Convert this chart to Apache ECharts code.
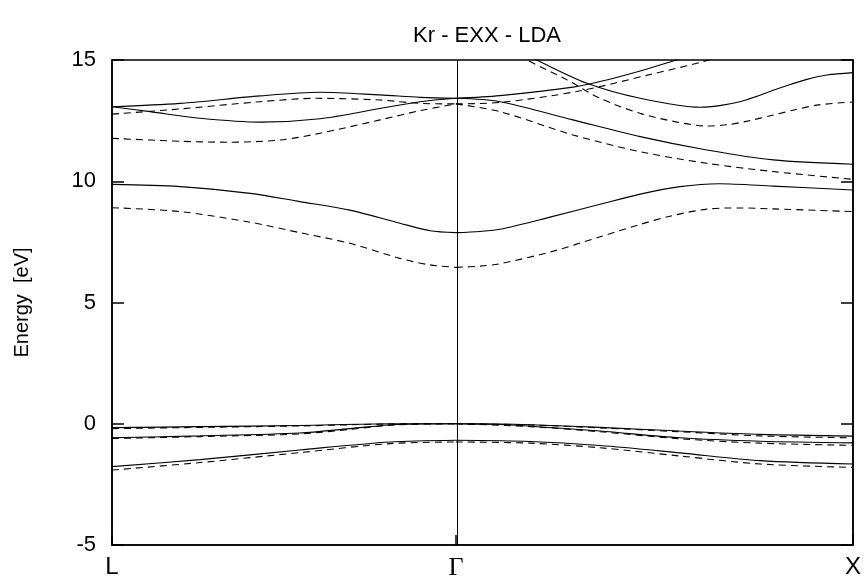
<!DOCTYPE html>
<html>
<head>
<meta charset="utf-8">
<script src="https://cdn.jsdelivr.net/npm/echarts@6/dist/echarts.min.js"></script>
<style>
html,body{margin:0;padding:0;background:#fff;}
#chart{width:866px;height:582px;}
</style>
</head>
<body>
<div id="chart"></div>
<script>
// k-path positions (L, Gamma, X)
const kPoints = [0, 0.866, 1.866];
const kLabels = ['L', 'Γ', 'X'];
const yTicks = [-5, 0, 5, 10, 15];

// EXX bands (solid) : [k, E(eV)]
const exxV1 = [[0,-0.16],[0.222,-0.12],[0.473,-0.07],[0.70,0],[0.866,0],[0.977,-0.01],[1.053,-0.04],[1.229,-0.15],[1.430,-0.30],[1.632,-0.44],[1.866,-0.51]];
const exxV2 = [[0,-0.58],[0.222,-0.50],[0.473,-0.38],[0.599,-0.20],[0.718,-0.03],[0.866,0],[0.977,-0.03],[1.053,-0.10],[1.229,-0.30],[1.430,-0.58],[1.632,-0.72],[1.866,-0.79]];
const exxV3 = [[0,-1.77],[0.222,-1.48],[0.473,-1.08],[0.70,-0.75],[0.866,-0.68],[1.053,-0.73],[1.229,-0.90],[1.430,-1.20],[1.632,-1.52],[1.866,-1.66]];
const exxC1 = [[0,9.87],[0.171,9.78],[0.348,9.50],[0.473,9.16],[0.599,8.81],[0.725,8.27],[0.801,7.96],[0.866,7.88],[0.927,7.93],[0.977,8.02],[1.103,8.52],[1.229,9.05],[1.33,9.47],[1.43,9.78],[1.53,9.90],[1.665,9.80],[1.866,9.64]];
const exxC2 = [[0,13.07],[0.096,12.87],[0.222,12.60],[0.373,12.44],[0.524,12.58],[0.675,13.00],[0.776,13.28],[0.866,13.42],[0.977,13.28],[1.161,12.53],[1.330,11.84],[1.498,11.29],[1.665,10.88],[1.866,10.70]];
const exxC3 = [[0,13.07],[0.171,13.21],[0.373,13.52],[0.524,13.67],[0.675,13.56],[0.776,13.46],[0.866,13.42],[0.977,13.53],[1.161,13.88],[1.229,14.11],[1.330,14.55],[1.413,14.96],[1.46,15.2]];
const exxC4 = [[1.03,15.4],[1.070,15.0],[1.196,14.04],[1.330,13.42],[1.481,13.05],[1.53,13.12],[1.581,13.28],[1.62,13.48],[1.665,13.75],[1.71,14.0],[1.75,14.2],[1.80,14.38],[1.866,14.48]];

// LDA bands (dashed)
const ldaV1 = [[0,-0.20],[0.222,-0.15],[0.473,-0.09],[0.70,-0.01],[0.866,0],[1.053,-0.05],[1.229,-0.17],[1.430,-0.33],[1.632,-0.50],[1.866,-0.58]];
const ldaV2 = [[0,-0.61],[0.222,-0.53],[0.473,-0.42],[0.599,-0.23],[0.718,-0.04],[0.866,0],[1.053,-0.12],[1.229,-0.33],[1.430,-0.62],[1.632,-0.80],[1.866,-0.89]];
const ldaV3 = [[0,-1.91],[0.222,-1.60],[0.473,-1.19],[0.70,-0.82],[0.866,-0.75],[1.053,-0.80],[1.229,-0.99],[1.430,-1.33],[1.632,-1.66],[1.866,-1.80]];
const ldaC1 = [[0,8.91],[0.171,8.75],[0.348,8.31],[0.473,7.88],[0.599,7.44],[0.725,6.82],[0.801,6.55],[0.866,6.45],[0.927,6.50],[0.977,6.60],[1.103,7.08],[1.229,7.71],[1.33,8.22],[1.405,8.56],[1.498,8.85],[1.58,8.90],[1.665,8.86],[1.866,8.75]];
const ldaC2 = [[0,11.77],[0.171,11.65],[0.290,11.61],[0.423,11.70],[0.524,11.98],[0.675,12.53],[0.776,12.91],[0.866,13.19],[0.977,12.87],[1.161,11.91],[1.330,11.22],[1.498,10.74],[1.665,10.40],[1.866,10.08]];
const ldaC3 = [[0,12.77],[0.171,12.98],[0.373,13.28],[0.516,13.42],[0.675,13.35],[0.776,13.21],[0.866,13.19],[0.977,13.25],[1.17,13.70],[1.355,14.40],[1.488,14.93],[1.53,15.15]];
const ldaC4 = [[1.0,15.5],[1.045,15.0],[1.146,14.18],[1.229,13.42],[1.330,12.80],[1.42,12.45],[1.498,12.28],[1.55,12.33],[1.60,12.48],[1.665,12.73],[1.72,12.95],[1.78,13.15],[1.866,13.27]];

const exxBands = [exxV1, exxV2, exxV3, exxC1, exxC2, exxC3, exxC4];
const ldaBands = [ldaV1, ldaV2, ldaV3, ldaC1, ldaC2, ldaC3, ldaC4];

const kG = kPoints[1];
function segments(arr) {
  const a = arr.filter(p => p[0] <= kG);
  const b = arr.filter(p => p[0] >= kG);
  return [a, b].filter(s => s.length > 1);
}

const series = [];
function addBands(bands, dashed) {
  bands.forEach(b => {
    segments(b).forEach(seg => {
      series.push({
        type: 'line', data: seg, showSymbol: false, smooth: 0.3,
        clip: true, silent: true, z: 3,
        lineStyle: { color: '#000', width: 1.1, type: dashed ? [7, 5] : 'solid' }
      });
    });
  });
}
addBands(exxBands, false);
addBands(ldaBands, true);

series[0].markLine = {
  silent: true, symbol: 'none', label: { show: false },
  lineStyle: { color: '#000', width: 1, type: 'solid' },
  data: [{ xAxis: kG }]
};

const chart = echarts.init(document.getElementById('chart'), null, { renderer: 'canvas' });
chart.setOption({
  animation: false,
  backgroundColor: '#fff',
  title: {
    text: 'Kr - EXX - LDA', left: 482, top: 20, textAlign: 'center',
    textStyle: { fontFamily: 'Liberation Sans', fontSize: 22, fontWeight: 'normal', color: '#000' }
  },
  grid: { left: 112, right: 13, top: 60, bottom: 37, show: true, borderColor: '#000', borderWidth: 1.5 },
  xAxis: {
    type: 'value', min: kPoints[0], max: kPoints[2],
    axisLine: { onZero: false, lineStyle: { color: '#000', width: 1.5 } },
    splitLine: { show: false },
    axisTick: { show: true, inside: true, length: 10, customValues: kPoints, lineStyle: { color: '#000', width: 1.5 } },
    axisLabel: {
      customValues: kPoints, showMinLabel: true, showMaxLabel: true,
      margin: 10, color: '#000', fontFamily: 'Liberation Sans', fontSize: 24,
      formatter: v => {
        const i = kPoints.findIndex(k => Math.abs(k - v) < 1e-6);
        if (i < 0) return '';
        return i === 1 ? '{g|' + kLabels[i] + '}' : kLabels[i];
      },
      rich: { g: { fontFamily: 'Liberation Serif', fontSize: 26, color: '#000' } }
    }
  },
  yAxis: [{
    type: 'value', min: yTicks[0], max: yTicks[yTicks.length - 1], interval: 5,
    name: 'Energy  [eV]', nameLocation: 'middle', nameGap: 80,
    nameTextStyle: { fontFamily: 'Liberation Sans', fontSize: 20, color: '#000' },
    axisLine: { show: true, onZero: false, lineStyle: { color: '#000', width: 1.5 } },
    splitLine: { show: false },
    axisTick: { show: true, inside: true, length: 12, lineStyle: { color: '#000', width: 1.5 } },
    axisLabel: { color: '#000', fontFamily: 'Liberation Sans', fontSize: 22, margin: 16 }
  }, {
    type: 'value', position: 'right', min: yTicks[0], max: yTicks[yTicks.length - 1], interval: 5,
    axisLine: { show: true, onZero: false, lineStyle: { color: '#000', width: 1.5 } },
    splitLine: { show: false },
    axisTick: { show: true, inside: true, length: 12, lineStyle: { color: '#000', width: 1.5 } },
    axisLabel: { show: false }
  }],
  series: series
});
</script>
</body>
</html>
